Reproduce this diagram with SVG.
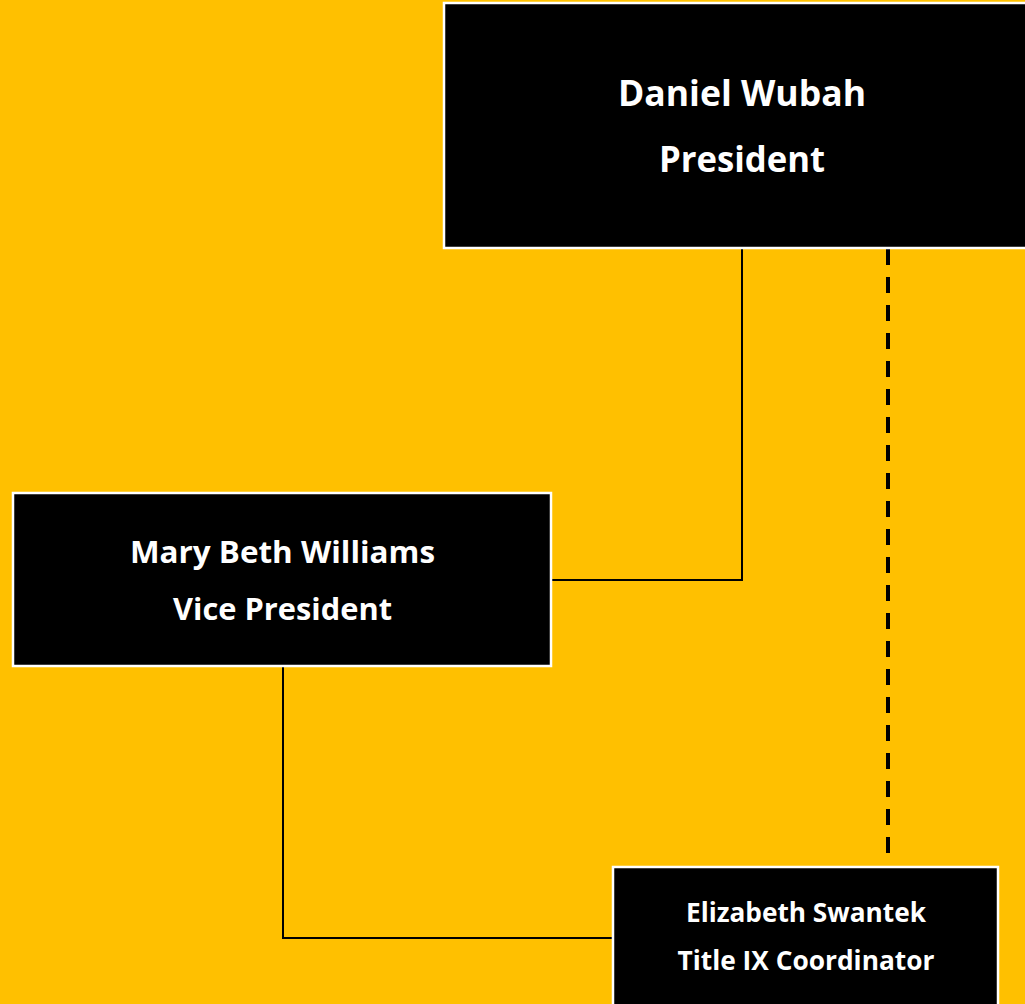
<svg xmlns="http://www.w3.org/2000/svg" width="1025" height="1004" viewBox="0 0 1025 1004">
<style>
.box{fill:#000;stroke:#fff;stroke-width:2.5}
.t{fill:#fff;font-family:"Open Sans","Noto Sans",sans-serif;font-weight:bold;text-anchor:middle}
.c{fill:none;stroke:#000;stroke-width:2}
.d{fill:none;stroke:#000;stroke-width:4;stroke-dasharray:16 12}
</style>
<rect x="0" y="0" width="1025" height="1004" fill="#FFC000"/>
<g id="connectors">
<polyline class="c" points="742,248 742,580 551,580"/>
<polyline class="c" points="283,666 283,938 613,938"/>
<line class="d" x1="888" y1="249" x2="888" y2="858"/>
</g>
<g id="president">
<rect class="box" x="444" y="3" width="590" height="245"/>
<text class="t" x="742" y="106" font-size="36" textLength="248" lengthAdjust="spacingAndGlyphs">Daniel Wubah</text>
<text class="t" x="742" y="172" font-size="36" textLength="166" lengthAdjust="spacingAndGlyphs">President</text>
</g>
<g id="vp">
<rect class="box" x="13" y="493" width="538" height="173"/>
<text class="t" x="282.5" y="563" font-size="30" textLength="305" lengthAdjust="spacingAndGlyphs">Mary Beth Williams</text>
<text class="t" x="282.5" y="620" font-size="30" textLength="219" lengthAdjust="spacingAndGlyphs">Vice President</text>
</g>
<g id="titleix">
<rect class="box" x="613" y="867" width="385" height="150"/>
<text class="t" x="806" y="922" font-size="26" textLength="240" lengthAdjust="spacingAndGlyphs">Elizabeth Swantek</text>
<text class="t" x="806" y="970" font-size="26" textLength="257" lengthAdjust="spacingAndGlyphs">Title IX Coordinator</text>
</g>
</svg>
